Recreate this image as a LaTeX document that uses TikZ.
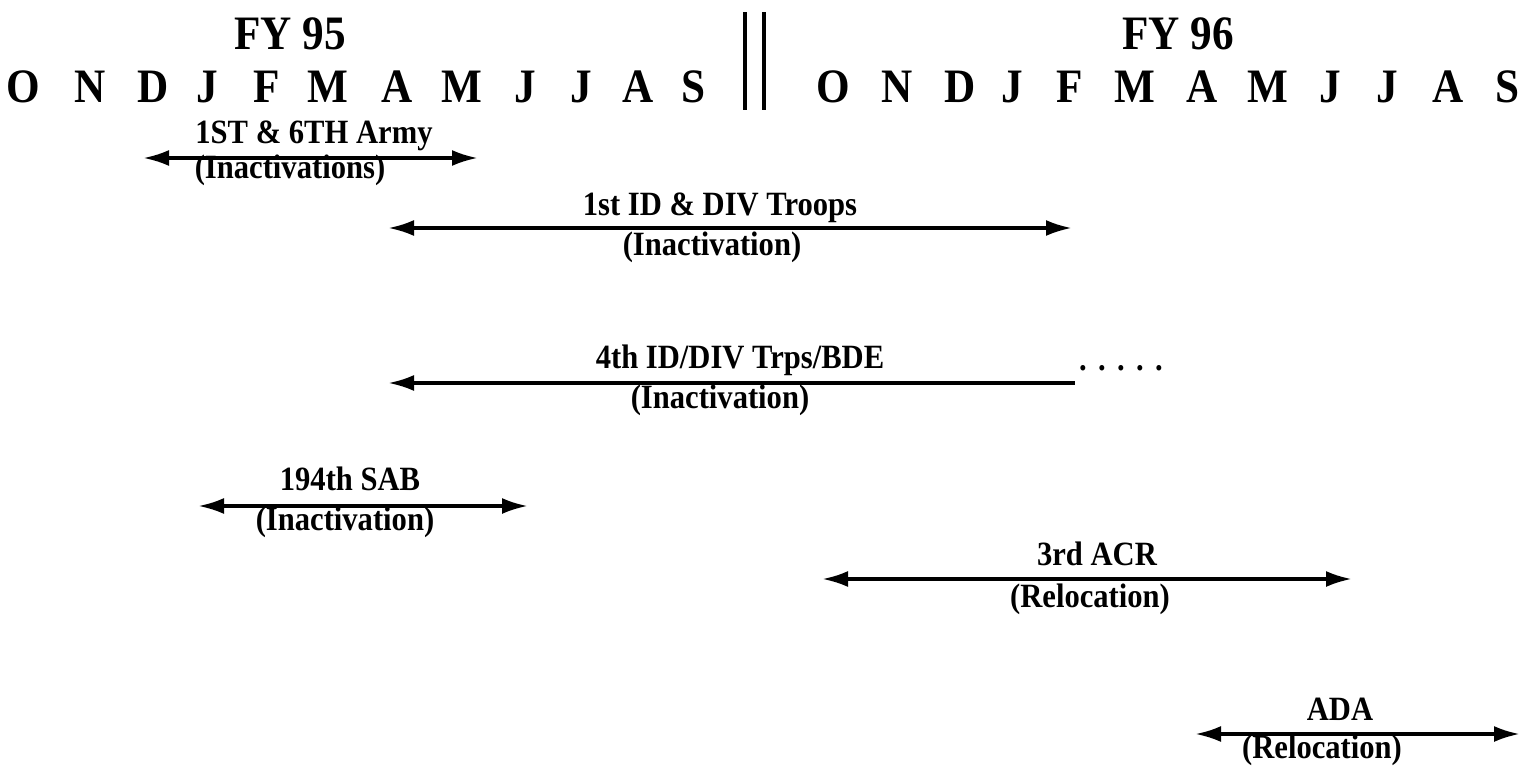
\documentclass[tikz,border=0pt]{standalone}
\usepackage{fontspec}
\setmainfont{Liberation Serif}[FakeStretch=0.9]
\usetikzlibrary{arrows.meta}

\begin{document}
\begin{tikzpicture}[x=0.5pt, y=-0.5pt,
                    monthnode/.style={anchor=base, inner sep=0pt, font=\fontsize{24}{26}\selectfont\bfseries},
                    fynode/.style={anchor=base, inner sep=0pt, font=\fontsize{24}{26}\selectfont\bfseries},
                    unitnode/.style={anchor=base, inner sep=0pt, font=\fontsize{17}{19}\selectfont\bfseries},
                    span/.style={line width=1.8pt, {Latex[length=13pt,width=8pt]}-{Latex[length=13pt,width=8pt]}},
                    halfspan/.style={line width=1.8pt, {Latex[length=13pt,width=8pt]}-},
                    yearbar/.style={line width=2pt},
                ]
                    \useasboundingbox (0,0) rectangle (1531,776);

                    %Header
                    \node[fynode](fy95) at (290,49) {FY 95};
                    \node[fynode](fy96) at (1178,49) {FY 96};
                    \foreach \m/\xa/\xb [count=\i] in {O/23/833, N/90/897, D/153/960, J/207/1012, F/267/1070, M/328/1135,
                                                       A/397/1202, M/462/1268, J/525/1330, J/581/1387, A/638/1448, S/694/1507} {
                        \node[monthnode](a\i) at (\xa,102) {\m};
                        \node[monthnode](b\i) at (\xb,102) {\m};
                    }
                    \coordinate (bar1t) at (745,12);
                    \coordinate (bar1b) at (745,110);
                    \coordinate (bar2t) at (764,12);
                    \coordinate (bar2b) at (764,110);
                    \draw[yearbar] (bar1t) -- (bar1b);
                    \draw[yearbar] (bar2t) -- (bar2b);

                    %Nodes
                    \node[unitnode](army) at (314,143) {1ST \& 6TH Army};
                    \node[unitnode](armyw) at (290,178) {(Inactivations)};
                    \node[unitnode](firstid) at (720,215) {1st ID \& DIV Troops};
                    \node[unitnode](firstidw) at (712,255) {(Inactivation)};
                    \node[unitnode](fourthid) at (740,368) {4th ID/DIV Trps/BDE};
                    \node[unitnode](fourthidw) at (720,408) {(Inactivation)};
                    \node[unitnode](more) at (1121,370) {.\,\,.\,\,.\,\,.\,\,.};
                    \node[unitnode](sab) at (350,490) {194th SAB};
                    \node[unitnode](sabw) at (345,530) {(Inactivation)};
                    \node[unitnode](acr) at (1097,565) {3rd ACR};
                    \node[unitnode](acrw) at (1090,607) {(Relocation)};
                    \node[unitnode](ada) at (1340,720) {ADA};
                    \node[unitnode](adaw) at (1322,758) {(Relocation)};

                    \coordinate (army1) at (143,158);
                    \coordinate (army2) at (478,158);
                    \coordinate (firstid1) at (388,228);
                    \coordinate (firstid2) at (1072,228);
                    \coordinate (fourthid1) at (388,383);
                    \coordinate (fourthid2) at (1075,383);
                    \coordinate (sab1) at (198,506);
                    \coordinate (sab2) at (528,506);
                    \coordinate (acr1) at (822,579);
                    \coordinate (acr2) at (1352,579);
                    \coordinate (ada1) at (1195,734);
                    \coordinate (ada2) at (1520,734);

                    %Lines
                    \draw[span](army1) -- (army2);
                    \draw[span](firstid1) -- (firstid2);
                    \draw[halfspan](fourthid1) -- (fourthid2);
                    \draw[span](sab1) -- (sab2);
                    \draw[span](acr1) -- (acr2);
                    \draw[span](ada1) -- (ada2);
                \end{tikzpicture}
\end{document}
